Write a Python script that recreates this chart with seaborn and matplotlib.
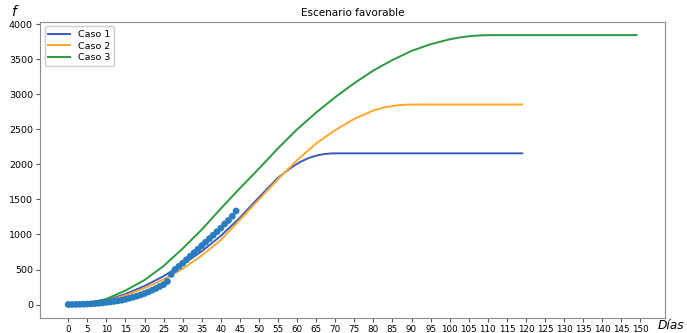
import numpy as np
import pandas as pd
import matplotlib
matplotlib.use('Agg')
import matplotlib.pyplot as plt
import seaborn as sns

# observed cumulative cases (daily, day 0..44)
obs_days = list(range(45))
obs_vals = [0, 0, 2, 3, 5, 7, 10, 14, 18, 24,
            30, 37, 45, 53, 62, 75, 90, 105, 120, 138,
            158, 180, 205, 230, 258, 285, 330, 430, 500, 545,
            590, 640, 690, 740, 790, 840, 890, 940, 990, 1040,
            1090, 1150, 1200, 1260, 1335]

# model curves (denser near the bends)
days_1 = [0, 5, 10, 15, 20, 25, 30, 35, 40, 45, 50, 55,
          57, 59, 61, 63, 65, 67, 69, 71,
          75, 80, 85, 90, 95, 100, 105, 110, 115, 119]
caso1 = [0, 15, 60, 150, 265, 405, 575, 760, 980, 1240, 1530, 1810,
         1895, 1975, 2040, 2090, 2125, 2147, 2157, 2158,
         2158, 2158, 2158, 2158, 2158, 2158, 2158, 2158, 2158, 2158]

days_2 = [0, 5, 10, 15, 20, 25, 30, 35, 40, 45, 50, 55, 60, 65, 70, 75, 80,
          83, 86, 89, 92,
          95, 100, 105, 110, 115, 119]
caso2 = [0, 12, 50, 130, 235, 360, 510, 700, 920, 1210, 1500, 1790, 2060,
         2300, 2490, 2650, 2770,
         2815, 2842, 2853, 2855,
         2855, 2855, 2855, 2855, 2855, 2855]

days_3 = [0, 5, 10, 15, 20, 25, 30, 35, 40, 45, 50, 55, 60, 65, 70, 75, 80,
          85, 90, 95, 100,
          103, 106, 109, 112,
          115, 120, 125, 130, 135, 140, 145, 149]
caso3 = [0, 20, 80, 200, 350, 550, 800, 1070, 1370, 1660, 1940, 2230, 2500,
         2740, 2960, 3160, 3340, 3490, 3620, 3715, 3785,
         3815, 3834, 3843, 3845,
         3845, 3845, 3845, 3845, 3845, 3845, 3845, 3845]

xticks = list(range(0, 155, 5))
yticks = list(range(0, 4500, 500))

fig = plt.figure(figsize=(6.87, 3.33), dpi=100)
ax = fig.add_axes([0.058, 0.045, 0.91, 0.89])

sns.lineplot(x=days_1, y=caso1, ax=ax, color='#3a5cbf', lw=1.4, label='Caso 1')
sns.lineplot(x=days_2, y=caso2, ax=ax, color='#ffa62b', lw=1.4, label='Caso 2')
sns.lineplot(x=days_3, y=caso3, ax=ax, color='#2a9a3c', lw=1.4, label='Caso 3')
sns.scatterplot(x=obs_days, y=obs_vals, ax=ax, color='#2a7cc0', s=24,
                edgecolor='none', zorder=3)

ax.set_xticks(xticks)
ax.set_yticks(yticks)
ax.tick_params(axis='x', labelsize=6.3, length=3, pad=2, color='#555555')
ax.tick_params(axis='y', labelsize=6.8, length=3, pad=2, color='#555555')
for sp in ax.spines.values():
    sp.set_color('#8c8c8c')

ax.set_title('Escenario favorable', fontsize=7.5, pad=4)
ax.set_ylabel('f', rotation=0, fontstyle='italic', fontsize=10)
ax.yaxis.set_label_coords(-0.042, 1.01)
ax.set_xlabel('Días', fontstyle='italic', fontsize=8.8, ha='left')
ax.xaxis.set_label_coords(0.988, -0.005)
ax.xaxis.label.set_va('top')

ax.legend(loc='upper left', fontsize=6.8, handlelength=2.3, borderpad=0.4,
          labelspacing=0.25, framealpha=1)

fig.savefig('out.png', dpi=100)
